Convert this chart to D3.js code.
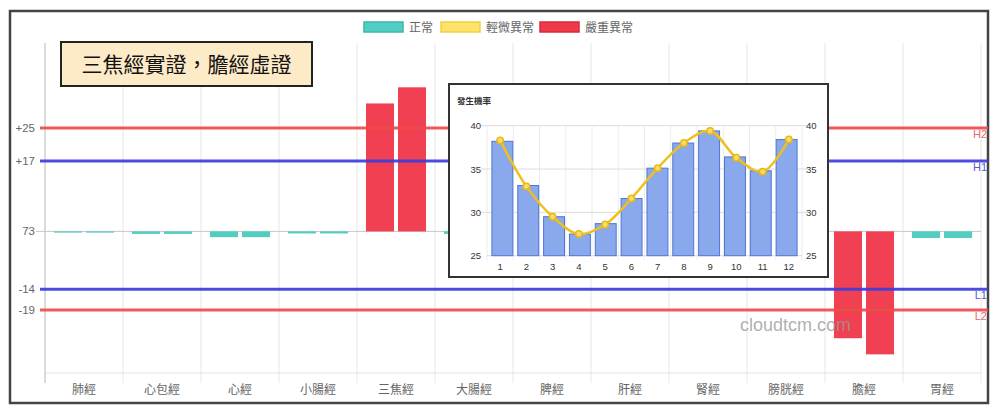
<!DOCTYPE html>
<html><head><meta charset="utf-8">
<script src="https://cdn.jsdelivr.net/npm/d3@7"></script>
<style>
html,body{margin:0;padding:0;background:#fff;}
svg{display:block;font-family:"Noto Sans CJK TC","Noto Sans",sans-serif;}
</style></head>
<body><svg id="c" width="1000" height="417"></svg>
<script>
// ---- data ----
const categories = ["肺經","心包經","心經","小腸經","三焦經","大腸經","脾經","肝經","腎經","膀胱經","膽經","胃經"];
const leftValues  = [-0.3,-0.6,-1.4,-0.5,30.9,-0.6,-0.8,-0.7,-0.6,-0.7,-25.8,-1.6];
const rightValues = [-0.3,-0.6,-1.4,-0.5,34.8,-0.6,-0.8,-0.7,-0.6,-0.7,-29.7,-1.6];
const status      = ["正常","正常","正常","正常","嚴重異常","正常","正常","正常","正常","正常","嚴重異常","正常"];
const legendNames = ["正常","輕微異常","嚴重異常"];
const tickValues  = [25,17,0,-14,-19];
const tickLabels  = ["+25","+17","73","-14","-19"];
const refNames    = ["H2","H1","L1","L2"];
const refValues   = [25,17,-14,-19];
const title = "三焦經實證，膽經虛證";
const months = [1,2,3,4,5,6,7,8,9,10,11,12];
const monthBars = [38.2,33.1,29.5,27.5,28.7,31.6,35.1,38.0,39.4,36.4,34.8,38.4];
const monthLine = [38.3,33.0,29.5,27.5,28.6,31.6,35.1,38.0,39.4,36.3,34.7,38.4];
const insetTicks = [25,30,35,40];
const insetTitle = "發生機率";
const watermark = "cloudtcm.com";

// ---- styles ----
const legendFill = {"正常":"#4fcfc4","輕微異常":"#fde36c","嚴重異常":"#ef3a4b"};
const legendStroke = {"正常":"#3fb5ab","輕微異常":"#f3cf3a","嚴重異常":"#d92a3a"};
const barFill = {"正常":"#4ecbbf","輕微異常":"#fde36c","嚴重異常":"#ef3a4b"};
const refColor = {"H2":"#ee4b4b","H1":"#3d3ddc","L1":"#3d3ddc","L2":"#ee4b4b"};
const refLabelColor = {"H2":"#e46a6a","H1":"#5a5acc","L1":"#5a5acc","L2":"#e46a6a"};

const svg = d3.select("#c");

// outer frame
svg.append("rect").attr("x",10).attr("y",11).attr("width",978).attr("height",392)
  .attr("fill","#fff").attr("stroke","#444").attr("stroke-width",2.5);

// scales
const x = d3.scaleBand().domain(categories).range([45,981]).padding(0);
const xs = d3.scaleBand().domain(["a","b"]).range([0,x.bandwidth()]).paddingInner(0.125).paddingOuter(0.28);
const y = d3.scaleLinear().domain([-34.2,45.5]).range([373,43]);

// gridlines vertical
const g = svg.append("g");
g.selectAll("line.vg").data(categories).join("line")
  .attr("x1",d=>x(d)+x.bandwidth()).attr("x2",d=>x(d)+x.bandwidth())
  .attr("y1",43).attr("y2",383).attr("stroke","#e6e6e6").attr("stroke-width",1);
// bottom axis line
g.append("line").attr("x1",45).attr("x2",981).attr("y1",373).attr("y2",373).attr("stroke","#e3e3e3");
// zero line
g.append("line").attr("x1",36).attr("x2",981).attr("y1",y(0)).attr("y2",y(0)).attr("stroke","#c8c8c8");
// left axis line
g.append("line").attr("x1",45).attr("x2",45).attr("y1",43).attr("y2",383).attr("stroke","#c4c4c4").attr("stroke-width",1.2);

// y tick labels
g.selectAll("text.yt").data(tickValues).join("text")
  .attr("x",35).attr("y",d=>y(d)+4).attr("text-anchor","end")
  .attr("font-size",11.5).attr("fill","#666").attr("font-family","Liberation Sans, Arial, sans-serif")
  .text((d,i)=>tickLabels[i]);

// x labels
g.selectAll("text.xl").data(categories).join("text")
  .attr("x",d=>x(d)+x.bandwidth()/2).attr("y",394).attr("text-anchor","middle")
  .attr("font-size",12).attr("fill","#666").text(d=>d);

// bars
const bars = svg.append("g");
categories.forEach((c,i)=>{
  [["a",leftValues[i]],["b",rightValues[i]]].forEach(([k,v])=>{
    bars.append("rect")
      .attr("x",x(c)+xs(k)).attr("width",xs.bandwidth())
      .attr("y",Math.min(y(v),y(0))).attr("height",Math.max(1,Math.abs(y(v)-y(0))))
      .attr("fill",barFill[status[i]]).attr("fill-opacity",0.97);
  });
});

// reference lines
const refs = svg.append("g");
refNames.forEach((n,i)=>{
  refs.append("line").attr("x1",40).attr("x2",988).attr("y1",y(refValues[i])).attr("y2",y(refValues[i]))
    .attr("stroke",refColor[n]).attr("stroke-width",3).attr("stroke-opacity",0.92);
  refs.append("text").attr("x",987).attr("y",y(refValues[i])+10).attr("text-anchor","end")
    .attr("font-size",11).attr("fill",refLabelColor[n]).attr("font-family","Liberation Sans, Arial, sans-serif").text(n);
});

// legend
const legX = [364,441,540];
const leg = svg.append("g");
legendNames.forEach((n,i)=>{
  leg.append("rect").attr("x",legX[i]).attr("y",22).attr("width",39).attr("height",10)
    .attr("fill",legendFill[n]).attr("stroke",legendStroke[n]).attr("stroke-width",1.5);
  leg.append("text").attr("x",legX[i]+45).attr("y",32).attr("font-size",12).attr("fill","#666").text(n);
});

// title box
svg.append("rect").attr("x",61).attr("y",42).attr("width",251).attr("height",44)
  .attr("fill","#fdeac6").attr("stroke","#222").attr("stroke-width",2);
svg.append("text").attr("x",186.5).attr("y",72).attr("text-anchor","middle")
  .attr("font-size",21).attr("fill","#111").text(title);

// inset
const ins = svg.append("g");
ins.append("rect").attr("x",449).attr("y",84).attr("width",379).attr("height",193)
  .attr("fill","#fff").attr("stroke","#333").attr("stroke-width",2);
ins.append("text").attr("x",457).attr("y",104).attr("font-size",8.5).attr("fill","#333").attr("font-weight","bold").text(insetTitle);
const ix = d3.scaleBand().domain(months).range([487,802]).padding(0.19);
const ixo = d3.scaleBand().domain(months).range([487,802]).padding(0);
const iy = d3.scaleLinear().domain([25,40]).range([255.7,125.7]);
// grid
ins.selectAll("line.ivg").data(months).join("line")
  .attr("x1",d=>ixo(d)).attr("x2",d=>ixo(d)).attr("y1",125.7).attr("y2",260).attr("stroke","#ececec");
ins.append("line").attr("x1",802).attr("x2",802).attr("y1",125.7).attr("y2",260).attr("stroke","#ececec");
ins.selectAll("line.ihg").data(insetTicks.slice(1)).join("line")
  .attr("x1",481).attr("x2",808).attr("y1",d=>iy(d)).attr("y2",d=>iy(d)).attr("stroke","#dcdcdc");
ins.append("line").attr("x1",487).attr("x2",802).attr("y1",iy(25)).attr("y2",iy(25)).attr("stroke","#dcdcdc");
// y labels
ins.selectAll("text.iyl").data(insetTicks).join("text")
  .attr("x",481).attr("y",d=>iy(d)+3.5).attr("text-anchor","end").attr("font-size",9.5).attr("fill","#333")
  .attr("font-family","Liberation Sans, Arial, sans-serif").text(d=>d);
ins.selectAll("text.iyr").data(insetTicks).join("text")
  .attr("x",806).attr("y",d=>iy(d)+3.5).attr("text-anchor","start").attr("font-size",9.5).attr("fill","#333")
  .attr("font-family","Liberation Sans, Arial, sans-serif").text(d=>d);
ins.selectAll("text.ixl").data(months).join("text")
  .attr("x",d=>ixo(d)+ixo.bandwidth()/2).attr("y",270).attr("text-anchor","middle").attr("font-size",9.5).attr("fill","#333")
  .attr("font-family","Liberation Sans, Arial, sans-serif").text(d=>d);
// bars
ins.selectAll("rect.ib").data(months).join("rect")
  .attr("x",d=>ix(d)).attr("width",ix.bandwidth())
  .attr("y",(d,i)=>iy(monthBars[i])).attr("height",(d,i)=>iy(25)-iy(monthBars[i]))
  .attr("fill","#8aa9ec").attr("stroke","#4f76d6").attr("stroke-width",1);
// line
const line = d3.line().x((d,i)=>ixo(months[i])+ixo.bandwidth()/2).y(d=>iy(d)).curve(d3.curveCatmullRom.alpha(0.5));
ins.append("path").datum(monthLine).attr("d",line).attr("fill","none").attr("stroke","#efbf1c").attr("stroke-width",2.5);
ins.selectAll("circle.ip").data(monthLine).join("circle")
  .attr("cx",(d,i)=>ixo(months[i])+ixo.bandwidth()/2).attr("cy",d=>iy(d)).attr("r",3.2)
  .attr("fill","#f8dc6c").attr("stroke","#e9b912").attr("stroke-width",1.5);

// watermark
svg.append("text").attr("x",740).attr("y",331).attr("font-size",18).attr("fill","#9a9a9a").attr("fill-opacity",0.8)
  .attr("font-family","Liberation Sans, Arial, sans-serif").text(watermark);
</script></body></html>
